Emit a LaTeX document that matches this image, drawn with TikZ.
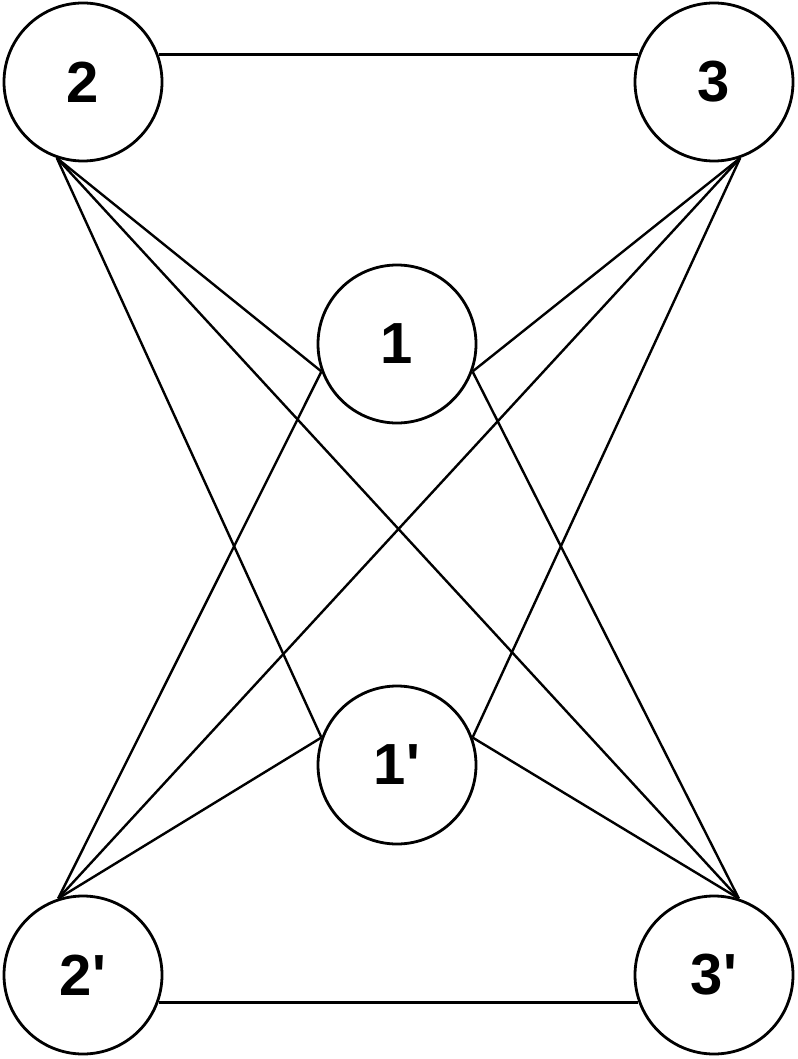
\documentclass[tikz,border=0pt]{standalone}
\usepackage{fontspec}
\newfontfamily\lab{Liberation Sans}
\begin{document}
\begin{tikzpicture}[x=1pt,y=-1pt,
  vtx/.style={circle,draw,line width=2.8pt,minimum size=158pt,inner sep=0pt,
    font=\lab\bfseries\fontsize{58}{58}\selectfont},
  edge/.style={line width=2.4pt}]
\useasboundingbox (0,0) rectangle (797,1059);
\node[vtx] (n2) at (83,82) {2};
\node[vtx] (n3) at (714,82) {3};
\node[vtx] (n1) at (397,344) {1};
\node[vtx] (n1p) at (397,765) {1'};
\node[vtx] (n2p) at (83,975) {2'};
\node[vtx] (n3p) at (714,975) {3'};
\draw[edge] (n2.20) -- (n3.160);
\draw[edge] (n2p.-20) -- (n3p.200);
\draw[edge] (n2.251) -- (n1.200);
\draw[edge] (n2.251) -- (n1p.160);
\draw[edge] (n2.251) -- (n3p.72);
\draw[edge] (n3.289) -- (n1.340);
\draw[edge] (n3.289) -- (n1p.20);
\draw[edge] (n3.289) -- (n2p.108);
\draw[edge] (n2p.108) -- (n1.200);
\draw[edge] (n2p.108) -- (n1p.160);
\draw[edge] (n3p.72) -- (n1.340);
\draw[edge] (n3p.72) -- (n1p.20);
\end{tikzpicture}
\end{document}
